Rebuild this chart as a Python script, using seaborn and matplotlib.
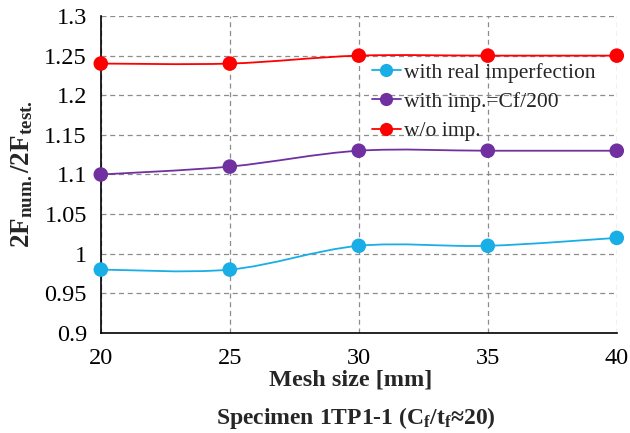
import matplotlib
matplotlib.use("Agg")
import matplotlib.pyplot as plt
from matplotlib.path import Path
from matplotlib.patches import PathPatch
from matplotlib.lines import Line2D
import numpy as np
import pandas as pd
import seaborn as sns

mesh_size = [20, 25, 30, 35, 40]
real_imp = [0.98, 0.98, 1.01, 1.01, 1.02]
imp_cf200 = [1.10, 1.11, 1.13, 1.13, 1.13]
no_imp = [1.24, 1.24, 1.25, 1.25, 1.25]
series_names = ["with real imperfection", "with imp.=Cf/200", "w/o imp."]
colors = ["#19AEE6", "#7030A0", "#FF0000"]
y_ticks = [0.9, 0.95, 1.0, 1.05, 1.1, 1.15, 1.2, 1.25, 1.3]
y_tick_labels = ["0.9", "0.95", "1", "1.05", "1.1", "1.15", "1.2", "1.25", "1.3"]

sns.set_style("white")
plt.rcParams["font.family"] = ["Liberation Serif", "DejaVu Serif"]
plt.rcParams["mathtext.fontset"] = "custom"
plt.rcParams["mathtext.rm"] = "Liberation Serif"
plt.rcParams["mathtext.it"] = "Liberation Serif:italic"
plt.rcParams["mathtext.bf"] = "Liberation Serif:bold"

df = pd.DataFrame({
    "mesh": mesh_size * 3,
    "ratio": real_imp + imp_cf200 + no_imp,
    "series": sum([[n] * len(mesh_size) for n in series_names], []),
})

fig = plt.figure(figsize=(6.3, 4.33), dpi=100)
ax = fig.add_axes([0.160, 0.231, 0.819, 0.732])


def smooth_path(x, y):
    """Cubic Bezier path through the points (Catmull-Rom style smoothing)."""
    x = np.asarray(x, float)
    y = np.asarray(y, float)
    pts = np.column_stack([x, y])
    verts = [pts[0]]
    codes = [Path.MOVETO]
    n = len(pts)
    for i in range(n - 1):
        p0 = pts[i - 1] if i > 0 else pts[i]
        p1 = pts[i]
        p2 = pts[i + 1]
        p3 = pts[i + 2] if i + 2 < n else pts[i + 1]
        c1 = p1 + (p2 - p0) / 6.0
        c2 = p2 - (p3 - p1) / 6.0
        verts += [c1, c2, p2]
        codes += [Path.CURVE4] * 3
    return Path(verts, codes)


for name, color in zip(series_names, colors):
    sub = df[df["series"] == name]
    ax.add_patch(PathPatch(smooth_path(sub["mesh"], sub["ratio"]), facecolor="none",
                           edgecolor=color, lw=1.3, zorder=3, clip_on=False))

sns.scatterplot(data=df, x="mesh", y="ratio", hue="series", palette=colors,
                hue_order=series_names, s=110, edgecolor="none", ax=ax,
                zorder=4, clip_on=False, legend=False)

ax.set_xlim(20, 40)
ax.set_ylim(0.9, 1.3)
ax.set_xticks(mesh_size)
ax.set_xticklabels([str(m) for m in mesh_size])
ax.set_yticks(y_ticks)
ax.set_yticklabels(y_tick_labels)
ax.grid(True, color="#8c8c8c", ls=(0, (4, 3)), lw=0.9)
for s in ["top", "right"]:
    ax.spines[s].set_visible(False)
for s in ["left", "bottom"]:
    ax.spines[s].set_color("black")
    ax.spines[s].set_linewidth(1.2)
ax.tick_params(axis="both", direction="inout", length=8, width=1.1,
               labelsize=17.5, colors="black")
ax.tick_params(axis="x", pad=6.5)
ax.tick_params(axis="y", pad=6)

ax.set_xlabel("Mesh size [mm]", fontsize=17.5, fontweight="bold")
ax.xaxis.set_label_coords(0.485, -0.115)
ax.set_ylabel(r"$\mathbf{2F_{num.}/2F_{test.}}$", fontsize=19.5)
ax.yaxis.set_label_coords(-0.128, 0.50)

handles = [Line2D([0], [0], color=c, lw=1.3, marker="o", markersize=9.5,
                  markeredgecolor="none") for c in colors]
ax.legend(handles, series_names, loc="center left", bbox_to_anchor=(0.525, 0.729),
          frameon=False, fontsize=15.5, handlelength=1.35, handletextpad=0.15,
          labelspacing=0.42, borderaxespad=0, borderpad=0)

fig.text(0.565, 0.005, r"Specimen 1TP1-1 (C$_\mathbf{f}$/t$_\mathbf{f}$≈20)",
         ha="center", va="bottom", fontsize=17, fontweight="bold")

fig.savefig("out.png", dpi=100)
